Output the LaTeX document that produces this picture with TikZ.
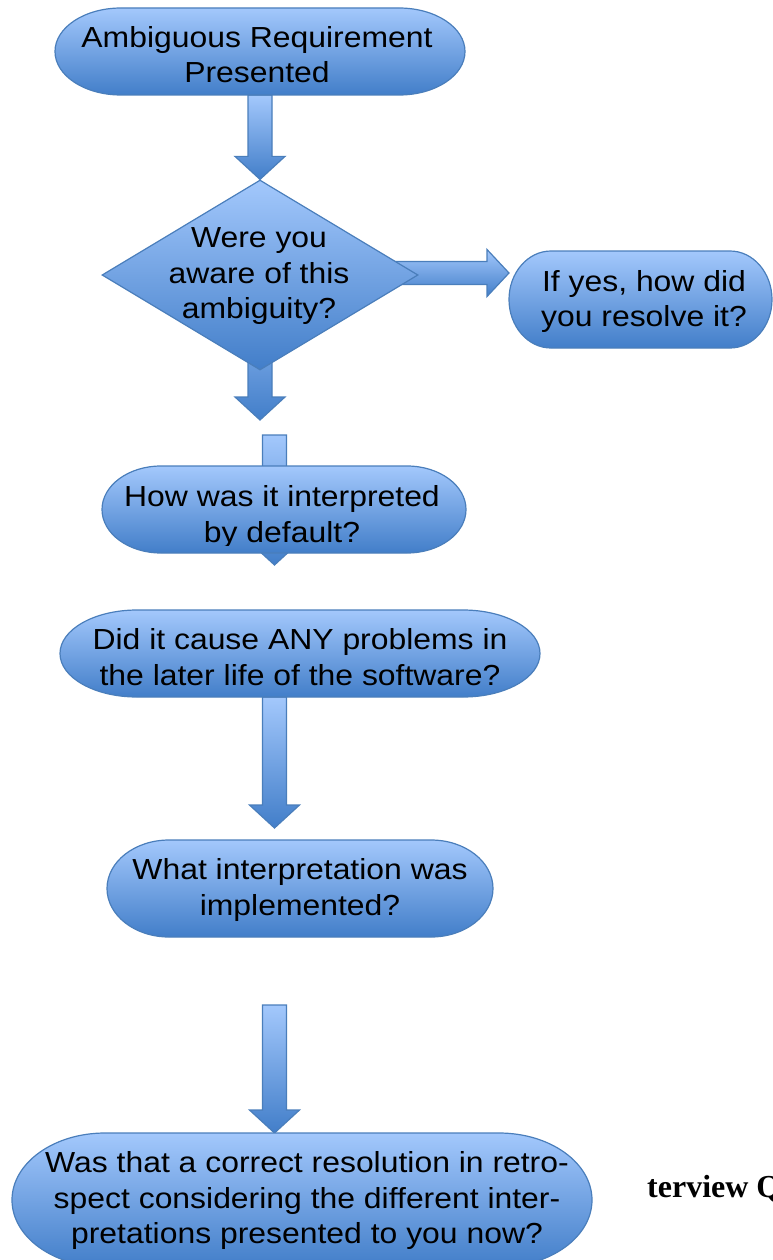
\documentclass[tikz,border=0pt]{standalone}
\usepackage{fontspec}
\newfontfamily\flowfont[FakeStretch=1.1]{Liberation Sans}
\newfontfamily\sidefont{Liberation Serif}
\usetikzlibrary{shapes.geometric,calc,backgrounds}
\definecolor{gtop}{RGB}{163,200,252}
\definecolor{gbot}{RGB}{66,126,201}
\definecolor{gline}{RGB}{74,126,187}
\tikzset{
  gfill/.style={draw=gline, line width=1.2pt, top color=gtop, bottom color=gbot},
  tbox/.style={inner sep=0pt, outer sep=0pt, draw=none},
  txt/.style={font={\flowfont\fontsize{29}{35.5}\selectfont}, align=center, inner sep=0pt, text=black},
}
% terminator outline (elliptical ends) around a named box node
\newcommand\termshape[3]{([xshift=#2]#1.north west) -- ([xshift=-#2]#1.north east)
  arc[start angle=90,end angle=-90,x radius=#2,y radius=#3]
  -- ([xshift=#2]#1.south west)
  arc[start angle=270,end angle=90,x radius=#2,y radius=#3] -- cycle}
% vertical block arrow from #1 down to #2 (x of #1)
\newcommand\varrow[2]{\path[gfill] let \p1=(#1), \p2=(#2) in
  (\x1-12pt,\y1) -- (\x1-12pt,\y2+23pt) -- (\x1-25pt,\y2+23pt) -- (\x1,\y2)
  -- (\x1+25pt,\y2+23pt) -- (\x1+12pt,\y2+23pt) -- (\x1+12pt,\y1) -- cycle;}
% horizontal block arrow from #1 right to #2 (y of #1)
\newcommand\harrow[2]{\path[gfill] let \p1=(#1), \p2=(#2) in
  (\x1,\y1+11.5pt) -- (\x2-22pt,\y1+11.5pt) -- (\x2-22pt,\y1+23.5pt) -- (\x2,\y1)
  -- (\x2-22pt,\y1-23.5pt) -- (\x2-22pt,\y1-11.5pt) -- (\x1,\y1-11.5pt) -- cycle;}
\begin{document}
\begin{tikzpicture}[x=1pt,y=-1pt]
\useasboundingbox (0,0) rectangle (773,1260);

% n1
\node[tbox, minimum width=410pt, minimum height=87pt] (n1) at (260,51.5) {};
\path[gfill] \termshape{n1}{66pt}{43.5pt};
\node[txt] (n1t) at (257,57.9) {\strut Ambiguous Requirement\strut\\\strut Presented\strut};

% decision
\node[diamond, gfill, inner sep=0pt, minimum width=316pt, minimum height=190pt] (d) at (260,275) {};
\node[txt] (dt) at (259,275.9) {\strut Were you\strut\\\strut aware of this\strut\\\strut ambiguity?\strut};

% n2
\node[tbox, minimum width=263pt, minimum height=97pt] (n2) at (640.5,299.5) {};
\path[gfill] \termshape{n2}{42pt}{48.5pt};
\node[txt] (n2t) at (644,301.9) {\strut If yes, how did\strut\\\strut you resolve it?\strut};

% n4 (text is cut just below its last baseline, as in the original)
\node[tbox, minimum width=364pt, minimum height=87pt] (n4) at (284,509.5) {};
\path[gfill] \termshape{n4}{59pt}{43.5pt};
\begin{scope}
  \clip (0,0) rectangle (773,545.5);
  \node[txt] (n4t) at (282,517.4) {\strut How was it interpreted\strut\\\strut by default?\strut};
\end{scope}

% n5
\node[tbox, minimum width=480pt, minimum height=87pt] (n5) at (300,653.5) {};
\path[gfill] \termshape{n5}{77pt}{43.5pt};
\node[txt] (n5t) at (300,660.4) {\strut Did it cause ANY problems in\strut\\\strut the later life of the software?\strut};

% n6
\node[tbox, minimum width=386pt, minimum height=97pt] (n6) at (300,888.5) {};
\path[gfill] \termshape{n6}{62pt}{48.5pt};
\node[txt] (n6t) at (300,890.4) {\strut What interpretation was\strut\\\strut implemented?\strut};

% n7
\node[tbox, minimum width=580pt, minimum height=134pt] (n7) at (302,1200) {};
\path[gfill] \termshape{n7}{93pt}{67pt};
\node[txt] (n7t) at (307,1200.9) {\strut Was that a correct resolution in retro-\strut\\\strut spect considering the different inter-\strut\\\strut pretations presented to you now?\strut};

% side text
\node[font={\sidefont\bfseries\fontsize{32}{38}\selectfont}, anchor=base west, inner sep=0pt] (side) at (647,1197) {terview Q};

% free connector ends
\coordinate (c2s) at (300,273);
\coordinate (c3) at (260,420);
\coordinate (c4) at (274.5,435);
\coordinate (c6) at (274.5,1005);

\begin{scope}[on background layer]
  \varrow{n1.south}{d.north}
  \harrow{c2s}{n2.west}
  \varrow{d.center}{c3}
  \varrow{c4}{[yshift=-12pt]n4.south}
  \varrow{[xshift=-25.5pt]n5.south}{[yshift=12pt]n6.north}
  \varrow{c6}{n7.north}
\end{scope}
\end{tikzpicture}
\end{document}
